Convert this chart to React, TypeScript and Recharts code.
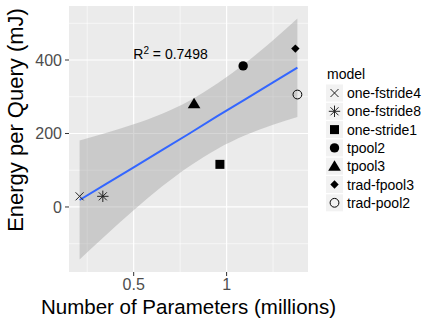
import React from "react";
import {
  Area,
  CartesianGrid,
  ComposedChart,
  Line,
  Scatter,
  XAxis,
  YAxis,
} from "recharts";

const models = [
  "one-fstride4",
  "one-fstride8",
  "one-stride1",
  "tpool2",
  "tpool3",
  "trad-fpool3",
  "trad-pool2",
];
const params = [0.209, 0.334, 0.964, 1.089, 0.825, 1.37, 1.381];
const energy = [29, 29, 116, 384, 281, 431, 306];

// lm fit and its 95% band
const fitX = [0.209, 0.35, 0.5, 0.65, 0.8, 0.95, 1.1, 1.25, 1.381];
const fitY = [19, 62, 108, 154, 200, 247, 293, 339, 379];
const fitLow = [-143, -77, -9, 55, 111, 158, 195, 224, 245];
const fitHigh = [181, 201, 225, 253, 289, 336, 391, 454, 513];

const xTicks = [0.5, 1];
const xMinor = [0.25, 0.75, 1.25];
const yTicks = [0, 200, 400];
const yMinor = [-100, 100, 300, 500];

const FONT = '"Liberation Sans", Arial, Helvetica, sans-serif';
const INK = "#000000";

const fitRows = fitX.map((x, i) => ({ x, fit: fitY[i], band: [fitLow[i], fitHigh[i]] }));
const pointRows = models.map((model, i) => ({ model, x: params[i], y: energy[i] }));

function Marker({ model, cx, cy }: { model: string; cx: number; cy: number }) {
  switch (model) {
    case "one-fstride4":
      return (
        <g stroke="#222" strokeWidth={1}>
          <line x1={cx - 4} y1={cy - 4} x2={cx + 4} y2={cy + 4} />
          <line x1={cx - 4} y1={cy + 4} x2={cx + 4} y2={cy - 4} />
        </g>
      );
    case "one-fstride8":
      return (
        <g stroke="#222" strokeWidth={1}>
          <line x1={cx - 4} y1={cy - 4} x2={cx + 4} y2={cy + 4} />
          <line x1={cx - 4} y1={cy + 4} x2={cx + 4} y2={cy - 4} />
          <line x1={cx - 5.7} y1={cy} x2={cx + 5.7} y2={cy} />
          <line x1={cx} y1={cy - 5.7} x2={cx} y2={cy + 5.7} />
        </g>
      );
    case "one-stride1":
      return <rect x={cx - 4.5} y={cy - 4.5} width={9} height={9} fill={INK} />;
    case "tpool2":
      return <circle cx={cx} cy={cy} r={4.7} fill={INK} />;
    case "tpool3":
      return (
        <polygon
          points={`${cx},${cy - 6} ${cx + 6.3},${cy + 4.6} ${cx - 6.3},${cy + 4.6}`}
          fill={INK}
        />
      );
    case "trad-fpool3":
      return (
        <polygon
          points={`${cx},${cy - 4.2} ${cx + 4.2},${cy} ${cx},${cy + 4.2} ${cx - 4.2},${cy}`}
          fill={INK}
        />
      );
    default:
      return <circle cx={cx} cy={cy} r={4.4} fill="none" stroke={INK} strokeWidth={1} />;
  }
}

export default function App() {
  return (
    <div style={{ width: 437, height: 322, background: "#fff" }}>
      <style>{"body{margin:0}"}</style>
      <ComposedChart
        width={437}
        height={322}
        data={fitRows}
        margin={{ top: 6, right: 129, bottom: 0, left: 0 }}
      >
        <CartesianGrid
          fill="#EBEBEB"
          stroke="#fff"
          strokeWidth={0.6}
          verticalValues={xMinor}
          horizontalValues={yMinor}
        />
        <CartesianGrid
          stroke="#fff"
          strokeWidth={1.2}
          verticalValues={xTicks}
          horizontalValues={yTicks}
        />
        <XAxis
          type="number"
          dataKey="x"
          domain={[0.152, 1.438]}
          allowDataOverflow
          ticks={xTicks}
          interval={0}
          height={50}
          axisLine={false}
          tickLine={{ stroke: "#333" }}
          tickSize={4}
          tickMargin={3}
          tick={{ fontSize: 16, fill: "#4D4D4D", fontFamily: FONT }}
        />
        <YAxis
          type="number"
          domain={[-177, 547]}
          allowDataOverflow
          ticks={yTicks}
          interval={0}
          width={69}
          axisLine={false}
          tickLine={{ stroke: "#333" }}
          tickSize={4}
          tickMargin={3}
          tick={{ fontSize: 16, fill: "#4D4D4D", fontFamily: FONT }}
        />
        <Area
          dataKey="band"
          type="monotone"
          fill="#999999"
          fillOpacity={0.4}
          stroke="none"
          isAnimationActive={false}
        />
        <Line
          dataKey="fit"
          type="linear"
          stroke="#3366FF"
          strokeWidth={2}
          dot={false}
          isAnimationActive={false}
        />
        <Scatter
          data={pointRows}
          dataKey="y"
          isAnimationActive={false}
          shape={(p: any) => <Marker model={p.payload.model} cx={p.cx} cy={p.cy} />}
        />

        <text x={170.5} y={58.5} textAnchor="middle" fontFamily={FONT} fontSize={14} fill={INK}>
          R<tspan fontSize={10} dy={-5}>2</tspan>
          <tspan dy={5}> = 0.7498</tspan>
        </text>

        <text
          transform="translate(22.7,120) rotate(-90)"
          textAnchor="middle"
          fontFamily={FONT}
          fontSize={22}
          fill={INK}
        >
          Energy per Query (mJ)
        </text>
        <text x={188.5} y={314} textAnchor="middle" fontFamily={FONT} fontSize={20.5} fill={INK}>
          Number of Parameters (millions)
        </text>

        <g fontFamily={FONT}>
          <text x={327} y={79} fontSize={14} fill={INK}>
            model
          </text>
          {models.map((m, i) => {
            const cy = 93 + i * 18.3;
            return (
              <g key={m}>
                <rect x={326} y={cy - 8.5} width={17} height={17} fill="#F2F2F2" />
                <Marker model={m} cx={334.5} cy={cy} />
                <text x={347} y={cy + 5} fontSize={14} fill={INK}>
                  {m}
                </text>
              </g>
            );
          })}
        </g>
      </ComposedChart>
    </div>
  );
}
